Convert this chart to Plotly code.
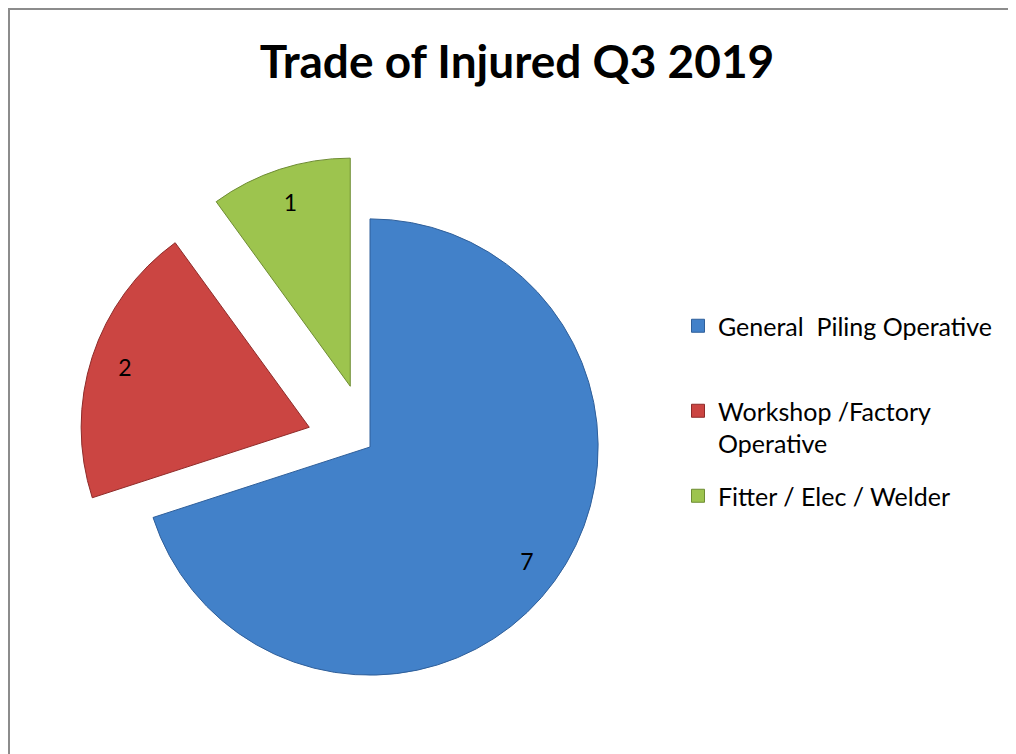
import plotly.graph_objects as go

# data
trades = ["General  Piling Operative", "Workshop /Factory<br>Operative", "Fitter / Elec / Welder"]
injured = [7, 2, 1]
pulls = [0, 0.28, 0.28]

COLORS = ["#4281C9", "#CB4542", "#9DC44E"]
EDGES = ["#2F5F9A", "#8E2B29", "#6E8C33"]

W, H = 1016, 754
FONT = "Lato, Calibri, 'Open Sans', sans-serif"
# the page body adds an 8px margin, so positions are given in paper px
DOMAIN = dict(x=[70 / W, 654 / W], y=[1 - 731 / H, 1 - 147 / H])
LEGEND_TOPS = [295, 380, 465]  # one legend box per entry, equal slots

hover_names = [t.replace("<br>", " ") for t in trades]

fig = go.Figure()

fig.add_trace(go.Pie(
    labels=hover_names,
    values=injured,
    pull=pulls,
    sort=False,
    direction="clockwise",
    rotation=0,
    marker=dict(colors=COLORS, line=dict(color=EDGES, width=1)),
    textinfo="none",
    domain=DOMAIN,
    hoverinfo="label+value",
    showlegend=False,
))

# transparent ring on top, only to carry the value labels near the rim
fig.add_trace(go.Pie(
    labels=hover_names,
    values=injured,
    pull=pulls,
    sort=False,
    direction="clockwise",
    rotation=0,
    hole=0.7,
    marker=dict(colors=["rgba(0,0,0,0)"] * len(injured), line=dict(width=0)),
    textinfo="value",
    textposition="inside",
    insidetextorientation="horizontal",
    textfont=dict(family=FONT, size=23, color="black"),
    domain=DOMAIN,
    showlegend=False,
    hoverinfo="skip",
))

# legend-only entries, each in its own legend so the slots are evenly spaced
legend_layout = {}
for i, (name, color, edge) in enumerate(zip(trades, COLORS, EDGES)):
    key = "legend" if i == 0 else f"legend{i + 1}"
    fig.add_trace(go.Scatter(
        x=[None], y=[None],
        mode="markers",
        name=name,
        marker=dict(symbol="square", size=13, color=color, line=dict(color=edge, width=1)),
        legend=key,
        hoverinfo="skip",
    ))
    legend_layout[key] = dict(
        x=670 / W, xanchor="left",
        y=1 - LEGEND_TOPS[i] / H, yanchor="top",
        font=dict(family=FONT, size=25, color="black"),
        valign="top",
        itemwidth=30,
        bgcolor="rgba(0,0,0,0)",
    )

fig.update_layout(
    width=W,
    height=H,
    margin=dict(l=0, r=0, t=0, b=0),
    paper_bgcolor="white",
    plot_bgcolor="rgba(0,0,0,0)",
    xaxis=dict(visible=False),
    yaxis=dict(visible=False),
    title=dict(
        text="<b>Trade of Injured Q3 2019</b>",
        font=dict(family=FONT, size=46, color="black"),
        x=509 / W, xanchor="center",
        y=1 - 54 / H, yanchor="middle",
    ),
    shapes=[dict(
        type="rect", xref="paper", yref="paper",
        x0=1 / W, x1=1.02, y0=-0.02, y1=1 - 1 / H,
        line=dict(color="#8C8C8C", width=2),
    )],
    **legend_layout,
)

fig.write_html("out.html")
